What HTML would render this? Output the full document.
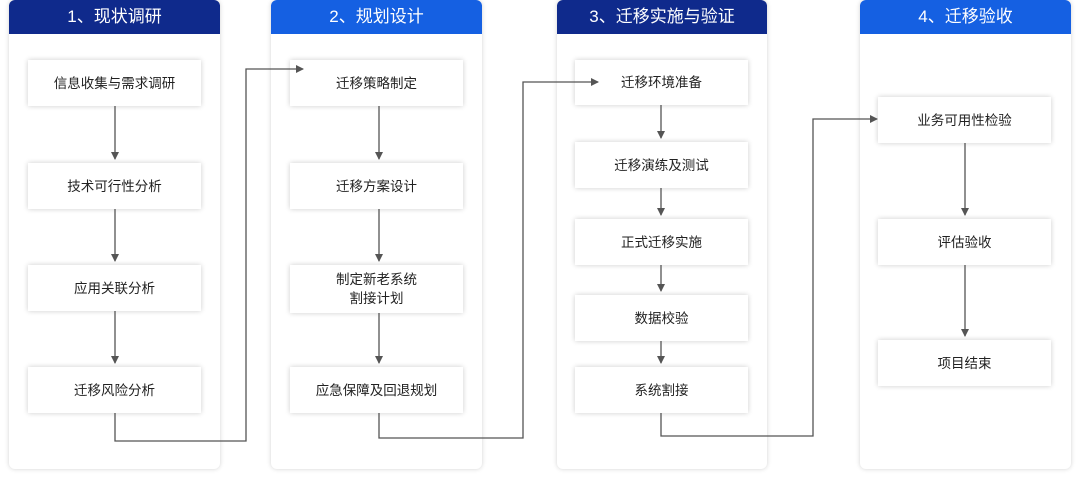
<!DOCTYPE html>
<html><head><meta charset="utf-8"><style>
body{margin:0;width:1080px;height:479px;background:#fff;position:relative;overflow:hidden;font-family:"Liberation Sans","Noto Sans CJK SC",sans-serif}
.col{position:absolute;top:0;height:469px;background:#fff;border-radius:6px;box-shadow:0 0 5px rgba(0,0,0,.18)}
.hd{height:34px;border-radius:6px 6px 0 0;color:#fff;font-size:17px;line-height:34px;text-align:center}
.n{background:#0f2a8c}.b{background:#1560e2}
.bx{position:absolute;width:173px;background:#fff;box-shadow:0 0 5px rgba(0,0,0,.2);font-size:13.5px;color:#222;display:flex;align-items:center;justify-content:center;text-align:center;line-height:19px}
svg{position:absolute;left:0;top:0}
</style></head><body>
<div class="col" style="left:9px;width:211px"><div class="hd n">1、现状调研</div></div>
<div class="col" style="left:271px;width:211px"><div class="hd b">2、规划设计</div></div>
<div class="col" style="left:557px;width:210px"><div class="hd n">3、迁移实施与验证</div></div>
<div class="col" style="left:860px;width:211px"><div class="hd b">4、迁移验收</div></div>

<div class="bx" style="left:28px;top:60px;height:46px">信息收集与需求调研</div>
<div class="bx" style="left:28px;top:163px;height:46px">技术可行性分析</div>
<div class="bx" style="left:28px;top:265px;height:46px">应用关联分析</div>
<div class="bx" style="left:28px;top:367px;height:46px">迁移风险分析</div>

<div class="bx" style="left:290px;top:60px;height:46px">迁移策略制定</div>
<div class="bx" style="left:290px;top:163px;height:46px">迁移方案设计</div>
<div class="bx" style="left:290px;top:265px;height:48px">制定新老系统<br>割接计划</div>
<div class="bx" style="left:290px;top:367px;height:46px">应急保障及回退规划</div>

<div class="bx" style="left:575px;top:60px;height:45px">迁移环境准备</div>
<div class="bx" style="left:575px;top:142px;height:46px">迁移演练及测试</div>
<div class="bx" style="left:575px;top:219px;height:46px">正式迁移实施</div>
<div class="bx" style="left:575px;top:295px;height:46px">数据校验</div>
<div class="bx" style="left:575px;top:367px;height:46px">系统割接</div>

<div class="bx" style="left:878px;top:97px;height:46px">业务可用性检验</div>
<div class="bx" style="left:878px;top:219px;height:46px">评估验收</div>
<div class="bx" style="left:878px;top:340px;height:46px">项目结束</div>

<svg width="1080" height="479">
<defs><marker id="a" markerWidth="8" markerHeight="8" refX="7" refY="4" orient="auto" markerUnits="userSpaceOnUse"><path d="M0,0 L8,4 L0,8z" fill="#555"/></marker></defs>
<g stroke="#555" stroke-width="1.3" fill="none" marker-end="url(#a)">
<path d="M115 106V159"/><path d="M115 209V261"/><path d="M115 311V363"/>
<path d="M115 413V441H246V69H303"/>
<path d="M379 106V159"/><path d="M379 209V261"/><path d="M379 313V363"/>
<path d="M379 413V438H523V82H598"/>
<path d="M661 105V138"/><path d="M661 188V215"/><path d="M661 265V291"/><path d="M661 341V363"/>
<path d="M661 413V436H813V119H877"/>
<path d="M965 143V215"/><path d="M965 265V336"/>
</g></svg>
</body></html>
